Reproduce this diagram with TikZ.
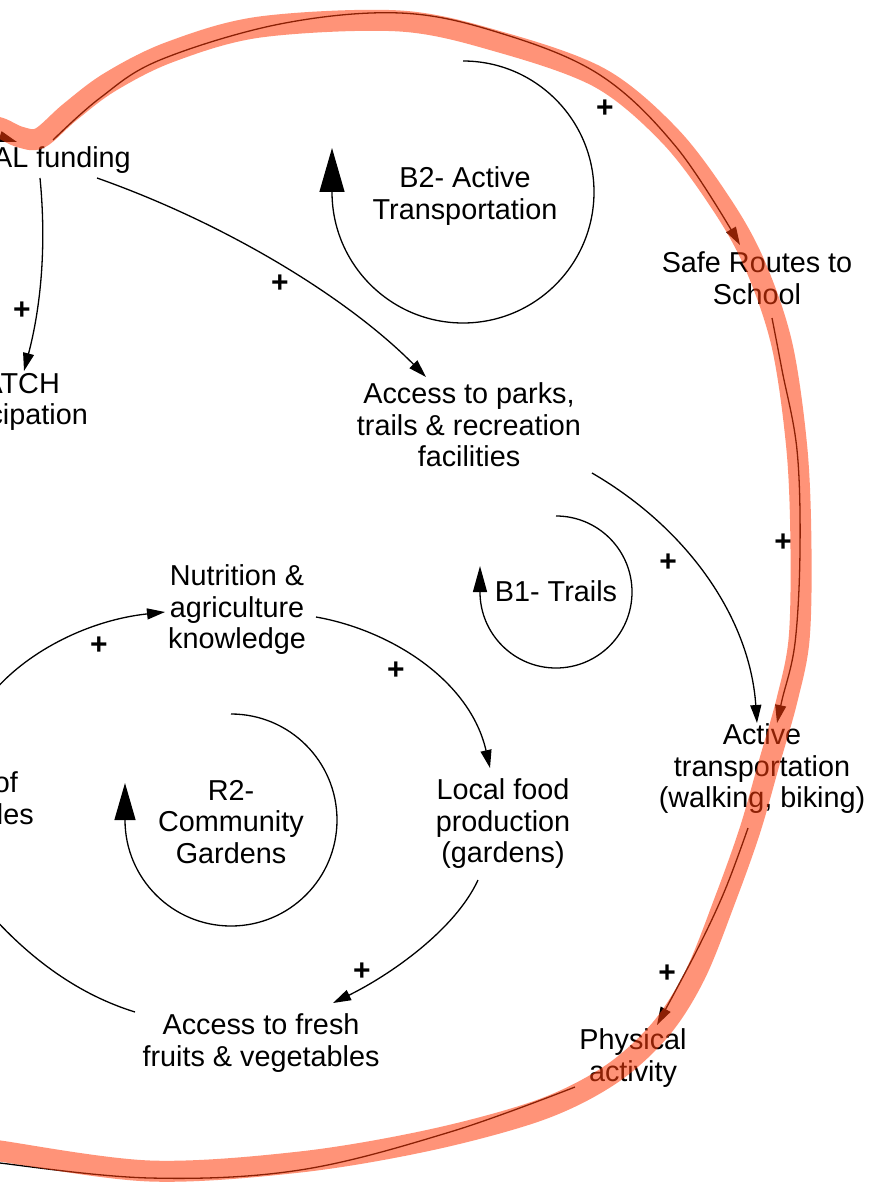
\documentclass[tikz,border=0pt]{standalone}
\usepackage{fontspec}
\setmainfont{Liberation Sans}
\usetikzlibrary{arrows.meta}
\definecolor{hl}{RGB}{255,60,10}
\begin{document}
\begin{tikzpicture}[x=1pt,y=-1pt,
  lbl/.style={font=\fontsize{28.8}{31.5}\selectfont, align=center, inner sep=0pt},
  pls/.style={font=\fontsize{30}{31.5}\selectfont\bfseries, inner sep=0pt},
  link/.style={line width=1.3pt, -{Triangle[length=18pt,width=11pt]}},
  loopline/.style={line width=1.3pt},
  band/.style={line width=21pt, draw=hl, opacity=0.55, line cap=round, line join=round}]
\useasboundingbox (0,0) rectangle (870,1182);
\clip (0,0) rectangle (870,1182);
\fill[white] (0,0) rectangle (870,1182);

% nodes
\node[lbl, anchor=base east] (fund) at (131,168) {AL funding};
\node[lbl, align=right, anchor=east] (patch) at (88,402) {ATCH\hspace*{28pt}\\cipation};
\node[lbl, align=right, anchor=east] (cons) at (34,798) {of\hspace*{16pt}\\les};
\node[lbl] (b2) at (465,196) {B2- Active\\Transportation};
\node[lbl] (srts) at (757,278) {Safe Routes to\\School};
\node[lbl] (parks) at (469,425) {Access to parks,\\trails \& recreation\\facilities};
\node[lbl] (b1) at (556,591) {B1- Trails};
\node[lbl] (nutr) at (237,610) {Nutrition \&\\agriculture\\knowledge};
\node[lbl] (r2) at (231,822) {R2-\\Community\\Gardens};
\node[lbl] (local) at (503,824) {Local food\\production\\(gardens)};
\node[lbl] (active) at (762,769) {Active\\transportation\\(walking, biking)};
\node[lbl] (fresh) at (261,1043) {Access to fresh\\fruits \& vegetables};
\node[lbl] (phys) at (633,1058) {Physical\\activity};

% plus signs
\node[pls] (p1) at (605,109) {+};
\node[pls] (p2) at (22,311) {+};
\node[pls] (p3) at (280,284) {+};
\node[pls] (p4) at (668,563) {+};
\node[pls] (p5) at (783,543) {+};
\node[pls] (p6) at (99,646) {+};
\node[pls] (p7) at (396,671) {+};
\node[pls] (p8) at (362,972) {+};
\node[pls] (p9) at (667,974) {+};

% connector end points
\coordinate (fundA) at (40,178);
\coordinate (patchIn) at (24,371);
\coordinate (fundB) at (97,178);
\coordinate (parksIn) at (426,377);
\coordinate (parksOut) at (592,473);
\coordinate (activeIn) at (757,723);
\coordinate (nutrOut) at (316,617);
\coordinate (localIn) at (490,768);
\coordinate (localOut) at (478,880);
\coordinate (freshIn) at (333,1003);
\coordinate (freshOut) at (135,1012);
\coordinate (offL1) at (-15,908);
\coordinate (offL2) at (-5,690);
\coordinate (nutrIn) at (165,612);
\coordinate (offL3) at (-40,124);
\coordinate (fundIn) at (17,142);

% ordinary links
\draw[link] (fundA) .. controls (47,250) and (40,310) .. (patchIn);
\draw[link] (fundB) .. controls (230,225) and (350,300) .. (parksIn);
\draw[link] (parksOut) .. controls (690,530) and (750,620) .. (activeIn);
\draw[link] (nutrOut) .. controls (390,630) and (470,680) .. (localIn);
\draw[link] (localOut) .. controls (455,930) and (390,975) .. (freshIn);
\draw[loopline] (freshOut) .. controls (80,995) and (30,960) .. (offL1);
\draw[link] (offL2) .. controls (30,650) and (90,620) .. (nutrIn);

% highlighted loop links
\draw[link] (offL3) -- (fundIn);
\draw[link] plot[smooth, tension=0.6] coordinates {(53,140) (100,98) (160,60) (280,24) (400,13) (500,33) (600,75) (677,148) (740,245)};
\draw[link] plot[smooth, tension=0.6] coordinates {(772,318) (782,370) (797,450) (800,550) (795,643) (782,700) (777,723)};
\draw[link] plot[smooth, tension=0.6] coordinates {(748,828) (725,890) (697,950) (657,1025)};
\draw[loopline] plot[smooth, tension=0.6] coordinates {(575,1087) (450,1132) (300,1170) (150,1178) (0,1163) (-20,1158)};

% loop markers
\draw[loopline, -{Triangle[length=44pt,width=25pt]}] (463,61) arc[start angle=-90, end angle=180, radius=131] -- ++(0,-44);
\draw[loopline, -{Triangle[length=26pt,width=14pt]}] (556,516) arc[start angle=-90, end angle=180, radius=76] -- ++(0,-26);
\draw[loopline, -{Triangle[length=37pt,width=21pt]}] (231,714) arc[start angle=-90, end angle=180, radius=106] -- ++(0,-37);

% highlight band
\draw[band] plot[smooth, tension=0.55] coordinates {(-20,124) (0,128) (20,137) (40,138) (70,112) (110,82) (170,52) (260,27) (400,21) (500,42) (600,78) (670,136) (722,205) (755,265) (782,345) (797,450) (801,550) (799,640) (787,700) (770,760) (750,830) (725,900) (695,975) (660,1030) (610,1075) (540,1110) (430,1140) (300,1162) (150,1171) (0,1151) (-20,1147)};
\end{tikzpicture}
\end{document}
